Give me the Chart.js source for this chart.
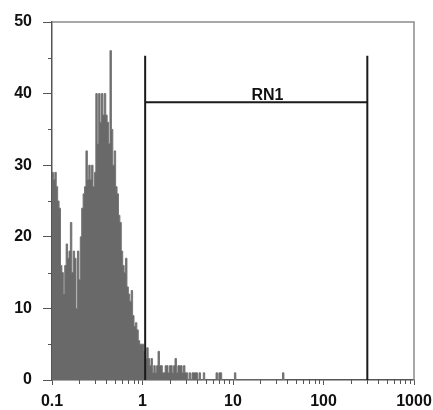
<!DOCTYPE html>
<html>
<head>
<meta charset="utf-8">
<script src="https://cdn.jsdelivr.net/npm/chart.js@4/dist/chart.umd.min.js"></script>
<style>
  html, body { margin: 0; padding: 0; background: #ffffff; }
  #wrap { width: 433px; height: 410px; }
</style>
</head>
<body>
<div id="wrap"><canvas id="c" width="433" height="410"></canvas></div>
<script>
// Histogram channel layout: 64 channels per decade, starting at 0.1
const binsPerDecade = 64;
const firstDecadeExp = -1;
// Event counts per channel
const counts = [
  29, 28, 29, 27, 25, 24, 16, 15, 12, 16, 19, 17, 18, 22, 15, 18,
  17, 10, 18, 14, 20, 24, 26, 27, 32, 28, 30, 28, 30, 27, 29, 40,
  33, 40, 36, 40, 37, 40, 37, 36, 33, 46, 35, 30, 32, 27, 26, 23,
  22, 18, 16, 15, 17, 13, 12, 11, 12.5, 9, 7.5, 8, 7, 5.5, 5, 5,
  5, 4, 3, 4.5, 3, 2, 3, 1, 2, 1, 2, 4, 2, 2, 1, 1,
  2, 2, 1, 2, 2, 1, 2, 3, 1, 2, 2, 2, 1, 2, 1, 1,
  0, 1, 0, 1, 1, 1, 1, 0, 1, 0, 0, 1, 0, 0, 0, 0,
  0, 0, 0, 0, 1, 0, 1, 1, 0, 0, 0, 0, 0, 0, 0, 0,
  0, 1, 0, 0, 0, 0, 0, 0, 0, 0, 0, 0, 0, 0, 0, 0,
  0, 0, 0, 0, 0, 0, 0, 0, 0, 0, 0, 0, 0, 0, 0, 0,
  0, 0, 0, 1, 0, 0
];
// Axis ticks
const xTickValues = [0.1, 1, 10, 100, 1000];
const xTickLabels = ["0.1", "1", "10", "100", "1000"];
const yTickValues = [0, 10, 20, 30, 40, 50];
const yMinorTicks = [5, 15, 25, 35, 45];
// Gate marker
const gateName = "RN1";
const gateLow = 1.07;
const gateHigh = 305;
const gateTop = 45.3;
const gateBar = 38.8;
const gateLabelX = 24;

// Build step points at channel edges
const points = [];
for (let i = 0; i < counts.length; i++) {
  points.push({ x: Math.pow(10, firstDecadeExp + i / binsPerDecade), y: counts[i] });
}
points.push({ x: Math.pow(10, firstDecadeExp + counts.length / binsPerDecade), y: 0 });

const FONT = "'Liberation Sans', Arial, sans-serif";

const decor = {
  id: 'decor',
  afterDatasetsDraw(chart) {
    const { ctx, chartArea: a, scales } = chart;
    const xs = scales.x, ys = scales.y;
    ctx.save();
    // top and right frame
    ctx.strokeStyle = '#8a8a8a';
    ctx.lineWidth = 1.5;
    ctx.beginPath();
    ctx.moveTo(a.left, a.top);
    ctx.lineTo(a.right, a.top);
    ctx.lineTo(a.right, a.bottom);
    ctx.stroke();
    // minor y ticks
    ctx.strokeStyle = '#555';
    ctx.lineWidth = 1;
    ctx.beginPath();
    yMinorTicks.forEach(v => {
      const y = Math.round(ys.getPixelForValue(v)) + 0.5;
      ctx.moveTo(a.left - 4, y);
      ctx.lineTo(a.left, y);
    });
    // minor x ticks
    for (let d = 0; d < xTickValues.length - 1; d++) {
      for (let m = 2; m <= 9; m++) {
        const x = Math.round(xs.getPixelForValue(xTickValues[d] * m)) + 0.5;
        ctx.moveTo(x, a.bottom);
        ctx.lineTo(x, a.bottom + 4);
      }
    }
    ctx.stroke();
    // gate
    const gx1 = xs.getPixelForValue(gateLow);
    const gx2 = xs.getPixelForValue(gateHigh);
    const gyTop = ys.getPixelForValue(gateTop);
    const gyBar = ys.getPixelForValue(gateBar);
    const gy0 = ys.getPixelForValue(0);
    ctx.strokeStyle = '#1a1a1a';
    ctx.lineWidth = 2;
    ctx.beginPath();
    ctx.moveTo(gx1, gyTop); ctx.lineTo(gx1, gy0);
    ctx.moveTo(gx2, gyTop); ctx.lineTo(gx2, gy0);
    ctx.moveTo(gx1, gyBar); ctx.lineTo(gx2, gyBar);
    ctx.stroke();
    ctx.fillStyle = '#111';
    ctx.font = 'bold 16px ' + FONT;
    ctx.textAlign = 'center';
    ctx.textBaseline = 'bottom';
    ctx.fillText(gateName, xs.getPixelForValue(gateLabelX), gyBar + 1);
    ctx.restore();
  }
};

new Chart(document.getElementById('c'), {
  type: 'line',
  data: {
    datasets: [{
      data: points,
      stepped: true,
      fill: 'origin',
      backgroundColor: '#696969',
      borderColor: '#757575',
      borderWidth: 1,
      pointRadius: 0,
      tension: 0
    }]
  },
  options: {
    responsive: false,
    animation: false,
    events: [],
    layout: { padding: { top: 22, right: 19, left: 0, bottom: 0 } },
    plugins: { legend: { display: false }, tooltip: { enabled: false } },
    scales: {
      x: {
        type: 'logarithmic',
        min: 0.1,
        max: 1000,
        afterBuildTicks(scale) { scale.ticks = xTickValues.map(v => ({ value: v })); },
        afterFit(scale) { scale.height = 30; scale.paddingLeft = 0; scale.paddingRight = 0; },
        ticks: {
          autoSkip: false,
          maxRotation: 0,
          padding: 7,
          color: '#111',
          font: { family: FONT, size: 16, weight: 'bold' },
          callback(v) { const k = xTickValues.indexOf(v); return k >= 0 ? xTickLabels[k] : ''; }
        },
        grid: { drawOnChartArea: false, tickLength: 5, color: '#555' },
        border: { color: '#555', width: 1.5 }
      },
      y: {
        min: 0,
        max: 50,
        afterBuildTicks(scale) { scale.ticks = yTickValues.map(v => ({ value: v })); },
        afterFit(scale) { scale.width = 52; scale.paddingTop = 0; scale.paddingBottom = 0; },
        ticks: {
          padding: 11,
          color: '#111',
          font: { family: FONT, size: 16, weight: 'bold' }
        },
        grid: { drawOnChartArea: false, tickLength: 9, color: '#555' },
        border: { color: '#555', width: 1.5 }
      }
    }
  },
  plugins: [decor]
});
</script>
</body>
</html>
